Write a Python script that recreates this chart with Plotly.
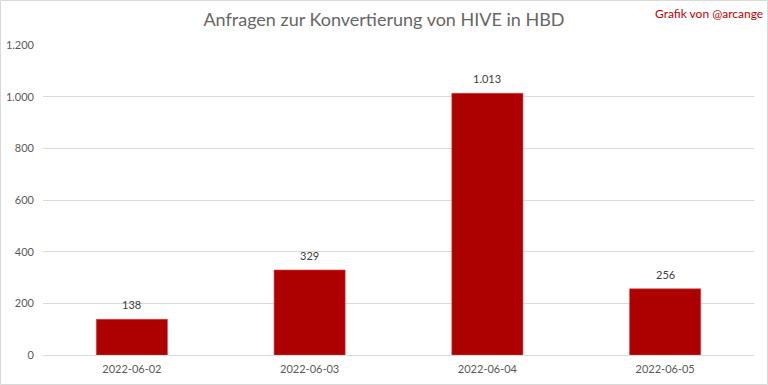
import plotly.graph_objects as go

categories = ["2022-06-02", "2022-06-03", "2022-06-04", "2022-06-05"]
values = [138, 329, 1013, 256]
y_ticks = [0, 200, 400, 600, 800, 1000, 1200]

W, H = 768, 385
ml, mr, mt, mb = 43, 14, 45, 30
pw, ph = W - ml - mr, H - mt - mb
FONT = "Lato, Open Sans, sans-serif"

fig = go.Figure()
fig.add_trace(go.Bar(
    x=categories, y=values,
    marker=dict(color="#ad0000", line=dict(color="#d84040", width=0.6)),
    width=0.4,
))

label_annotations = [
    dict(x=c, y=v, xref="x", yref="y", text=f"{v:,}".replace(",", "."),
         showarrow=False, yanchor="bottom", yshift=6,
         font=dict(family=FONT, size=11, color="#404040"))
    for c, v in zip(categories, values)
]

fig.update_layout(
    width=W, height=H,
    margin=dict(l=ml, r=mr, t=mt, b=mb),
    paper_bgcolor="white", plot_bgcolor="white",
    separators=",.",
    showlegend=False,
    title=dict(text="Anfragen zur Konvertierung von HIVE in HBD", x=0.5, xanchor="center",
               y=1 - 20 / H, yanchor="middle",
               font=dict(family=FONT, size=18, color="#666666")),
    font=dict(family=FONT, size=11, color="#595959"),
    xaxis=dict(type="category", showgrid=False, showline=True, linecolor="#d9d9d9",
               ticks="", automargin=False, ticklabelstandoff=4,
               tickfont=dict(size=11, color="#595959")),
    yaxis=dict(range=[0, 1200], tickvals=y_ticks, tickformat=",", showgrid=True,
               gridcolor="#d9d9d9", zeroline=False, showline=False, ticks="",
               automargin=False, ticklabelstandoff=8,
               tickfont=dict(size=11, color="#595959")),
    annotations=label_annotations + [
        dict(text="Grafik von @arcange", xref="paper", yref="paper",
             x=1 + 11 / pw, y=1 + 31 / ph, xanchor="right", yanchor="middle",
             showarrow=False, font=dict(family=FONT, size=12, color="#c00000"))],
    shapes=[dict(type="rect", xref="paper", yref="paper",
                 x0=-(ml - 0.5) / pw, x1=1 + (mr - 0.5) / pw,
                 y0=-(mb - 0.5) / ph, y1=1 + (mt - 0.5) / ph,
                 line=dict(color="#d9d9d9", width=1), layer="below")],
)

fig.write_html("out.html")
